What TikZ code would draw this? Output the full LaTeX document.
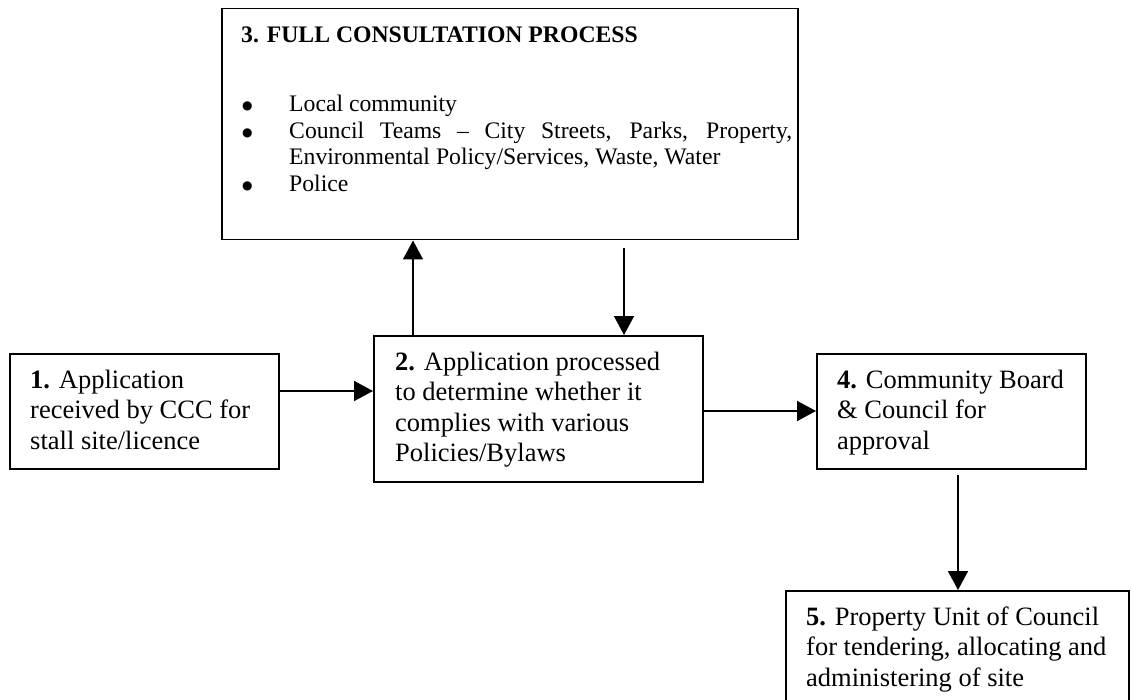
\documentclass[tikz,border=0pt]{standalone}
\usepackage{fontspec}
\setmainfont{Liberation Serif}
\newfontfamily\dvfont{DejaVu Sans}
\usetikzlibrary{arrows.meta}
\tikzset{
  box/.style={draw, line width=1.5pt, inner sep=0pt, anchor=north west},
  txt/.style={inner sep=0pt, anchor=base west},
  arr/.style={line width=1.5pt, -{Triangle[length=19pt,width=20pt]}},
}
\newcommand{\bigtext}{\fontsize{26.5pt}{30.5pt}\selectfont}
\newcommand{\smalltext}{\fontsize{23.7pt}{26.5pt}\selectfont}
\newcommand{\blt}{\noindent\llap{\makebox[47pt][l]{\raisebox{2pt}{\dvfont\fontsize{12pt}{12pt}\selectfont ●}}}}
\begin{document}
\begin{tikzpicture}[x=1pt,y=-1pt]
\useasboundingbox (0,0) rectangle (1131,700);
% boxes
\node[box, minimum width=576pt, minimum height=231pt] (b3) at (221,8) {};
\node[box, minimum width=269pt, minimum height=115pt] (b1) at (9,353) {};
\node[box, minimum width=329pt, minimum height=146pt] (b2) at (373,335) {};
\node[box, minimum width=269pt, minimum height=115pt] (b4) at (816,353) {};
\node[box, minimum width=343pt, minimum height=130pt] (b5) at (785,590) {};
% texts
\node[txt] (t3a) at (241,43) {\smalltext\bfseries 3. FULL CONSULTATION PROCESS};
\node[txt] (t3b) at (289,112) {\parbox[t]{503pt}{\smalltext\tolerance=10000\hyphenpenalty=10000\parindent=0pt
\blt Local community\par
\blt Council Teams -- City Streets, Parks, Property, Environmental Policy/Services, Waste, Water\par
\blt Police}};
\node[txt] (t1) at (30,388) {\parbox[t]{250pt}{\bigtext\raggedright
\textbf{1.} Application\\ received by CCC for\\ stall site/licence}};
\node[txt] (t2) at (395,370) {\parbox[t]{300pt}{\bigtext\raggedright
\textbf{2.} Application processed\\ to determine whether it\\ complies with various\\ Policies/Bylaws}};
\node[txt] (t4) at (837,388) {\parbox[t]{250pt}{\bigtext\raggedright
\textbf{4.} Community Board\\ \& Council for\\ approval}};
\node[txt] (t5) at (806,625) {\parbox[t]{320pt}{\bigtext\raggedright
\textbf{5.} Property Unit of Council\\ for tendering, allocating and\\ administering of site}};
% connectors
\coordinate (u) at (413,0);
\coordinate (d0) at (624,248);
\coordinate (h1) at (0,391);
\coordinate (h2) at (0,411);
\coordinate (v0) at (958,475);
\draw[arr] (u |- b2.north) -- (u |- b3.south);
\draw[arr] (d0) -- (d0 |- b2.north);
\draw[arr] (b1.east |- h1) -- (b2.west |- h1);
\draw[arr] (b2.east |- h2) -- (b4.west |- h2);
\draw[arr] (v0) -- (v0 |- b5.north);
\end{tikzpicture}
\end{document}
